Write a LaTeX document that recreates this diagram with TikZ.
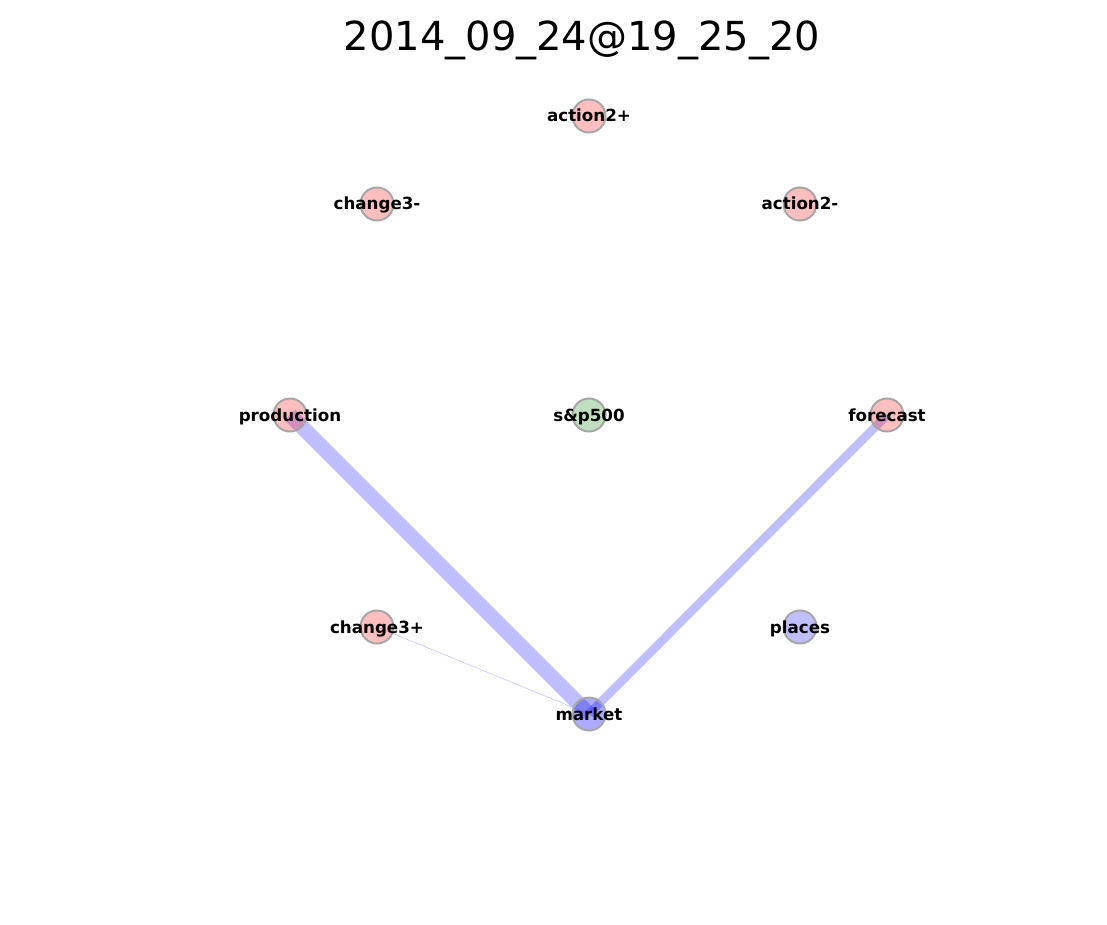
\documentclass[tikz,border=0pt]{standalone}
\usepackage{fontspec}
\setmainfont{DejaVu Sans}
\usetikzlibrary{backgrounds}

\definecolor{nodered}{RGB}{255,0,0}
\definecolor{nodegreen}{RGB}{0,128,0}
\definecolor{nodeblue}{RGB}{0,0,255}

\tikzset{
    word/.style={circle, minimum size=33pt, inner sep=0pt, line width=2pt,
        draw=black!35, fill opacity=0.25},
    wordlabel/.style={inner sep=0pt, text height=12pt, text depth=0pt,
        font=\fontsize{16.7}{16.7}\selectfont\bfseries},
    link/.style={draw=nodeblue, draw opacity=0.25}
}

\begin{document}
\begin{tikzpicture}[x=1pt, y=-1pt]
        \useasboundingbox (0,0) rectangle (1107,925);

        \node[font=\fontsize{40}{40}\selectfont] (title) at (582,40) {2014\_09\_24@19\_25\_20};

        \node[word, fill=nodered] (action2p) at (589,116) {};
        \node[word, fill=nodered] (change3m) at (377,204) {};
        \node[word, fill=nodered] (action2m) at (800,204) {};
        \node[word, fill=nodered] (production) at (290,415) {};
        \node[word, fill=nodegreen] (sp500) at (589,415) {};
        \node[word, fill=nodered] (forecast) at (887,415) {};
        \node[word, fill=nodered] (change3p) at (377,627) {};
        \node[word, fill=nodeblue] (places) at (800,627) {};
        \node[word, fill=nodeblue, fill opacity=0.33] (market) at (589,714) {};

        \node[wordlabel] at (action2p) {action2+};
        \node[wordlabel] at (change3m) {change3-};
        \node[wordlabel] at (action2m) {action2-};
        \node[wordlabel] at (production) {production};
        \node[wordlabel] at (sp500) {s\&p500};
        \node[wordlabel] at (forecast) {forecast};
        \node[wordlabel] at (change3p) {change3+};
        \node[wordlabel] at (places) {places};
        \node[wordlabel] at (market) {market};

        \begin{scope}[on background layer]
            \draw[link, line width=15pt] (production.center) -- (market.center);
            \draw[link, line width=8.5pt] (forecast.center) -- (market.center);
            \draw[link, line width=0.5pt] (change3p.center) -- (market.center);
        \end{scope}
    \end{tikzpicture}
\end{document}
